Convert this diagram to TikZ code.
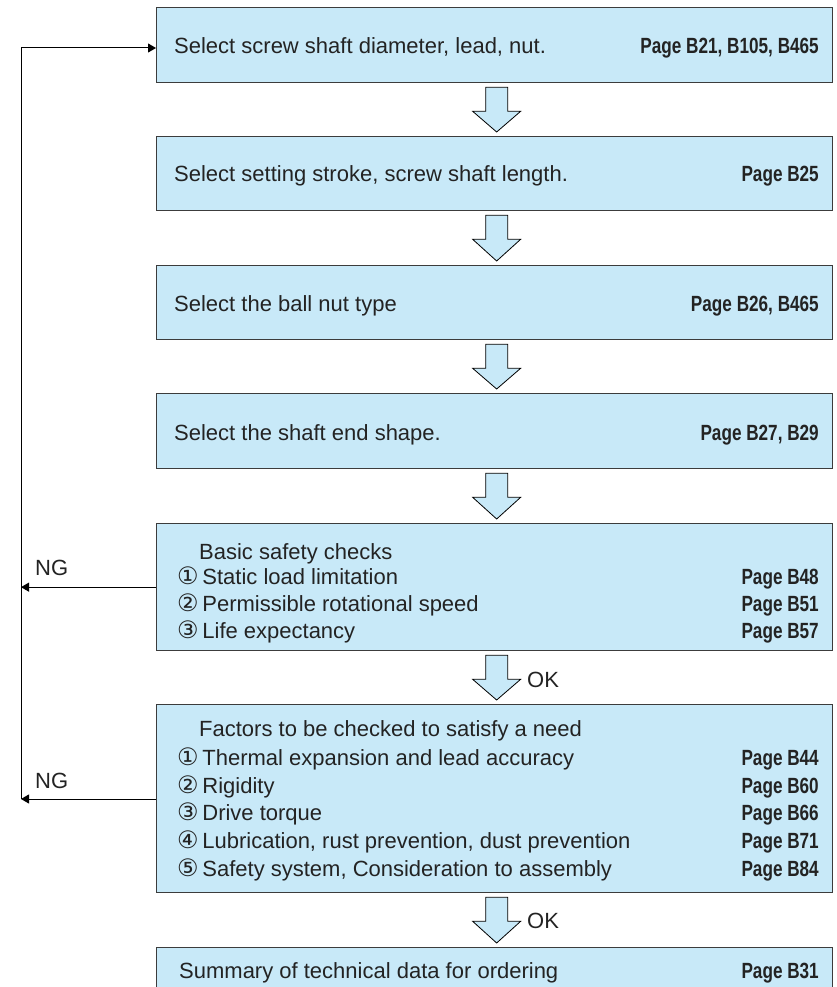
\documentclass[tikz,border=0pt]{standalone}
\usepackage{fontspec}
\setmainfont{Liberation Sans}
\newfontfamily\dejavu{DejaVu Sans}
\usetikzlibrary{arrows.meta,calc}
\definecolor{boxfill}{RGB}{200,233,248}
\definecolor{boxline}{RGB}{60,60,60}
\definecolor{txtcol}{RGB}{35,35,35}
\newcommand\pgtext[1]{\scalebox{0.78}[1]{\bfseries #1}}
\newcommand\cnum[1]{{\dejavu\fontsize{24pt}{28pt}\selectfont #1}}
\newcommand\hollowarrow[2]{%
  \draw[harrow] let \p1=(#1.south), \p2=(#2.north) in
    (\x1+2pt-11pt,\y1-4pt) -- (\x1+2pt-11pt,\y1-28pt) -- (\x1+2pt-24pt,\y1-28pt)
    -- (\x1+2pt,\y2+4pt) -- (\x1+2pt+24pt,\y1-28pt) -- (\x1+2pt+11pt,\y1-28pt)
    -- (\x1+2pt+11pt,\y1-4pt) -- cycle;}
\tikzset{
  stepbox/.style={draw=boxline, line width=1.3pt, fill=boxfill, minimum width=676pt, inner sep=0pt, anchor=north west},
  txt/.style={font=\fontsize{22pt}{26pt}\selectfont, inner sep=0pt, text=txtcol},
  pg/.style={txt, anchor=base east},
  lt/.style={txt, anchor=base west},
  harrow/.style={draw=black, line width=0.8pt, fill=boxfill, line join=miter},
  fb/.style={draw=black, line width=1pt},
  fbtip/.style={fb, -{Triangle[length=8pt,width=9pt]}},
}
\begin{document}
\begin{tikzpicture}[x=1pt,y=-1pt]
\useasboundingbox (0,0) rectangle (836,987);
\clip (0,0) rectangle (836,987);
% boxes
\node[stepbox, minimum height=75pt] (b1) at (156,7) {};
\node[stepbox, minimum height=74pt] (b2) at (156,136) {};
\node[stepbox, minimum height=74pt] (b3) at (156,265) {};
\node[stepbox, minimum height=75pt] (b4) at (156,393) {};
\node[stepbox, minimum height=127pt] (b5) at (156,523) {};
\node[stepbox, minimum height=188pt] (b6) at (156,704) {};
\node[stepbox, minimum height=56pt] (b7) at (156,947) {};
% box 1-4 texts
\node[lt] (t1) at (174,54) {Select screw shaft diameter, lead, nut.};
\node[pg] (p1) at (819,54) {\pgtext{Page B21, B105, B465}};
\node[lt] (t2) at (174,182) {Select setting stroke, screw shaft length.};
\node[pg] (p2) at (819,182) {\pgtext{Page B25}};
\node[lt] (t3) at (174,311) {Select the ball nut type};
\node[pg] (p3) at (819,311) {\pgtext{Page B26, B465}};
\node[lt] (t4) at (174,440) {Select the shaft end shape.};
\node[pg] (p4) at (819,440) {\pgtext{Page B27, B29}};
% box 5
\node[lt] (t5) at (199,559) {Basic safety checks};
\node[lt] (t5a) at (177,584) {\cnum{①}\,Static load limitation};
\node[pg] (p5a) at (819,584) {\pgtext{Page B48}};
\node[lt] (t5b) at (177,611) {\cnum{②}\,Permissible rotational speed};
\node[pg] (p5b) at (819,611) {\pgtext{Page B51}};
\node[lt] (t5c) at (177,638) {\cnum{③}\,Life expectancy};
\node[pg] (p5c) at (819,638) {\pgtext{Page B57}};
% box 6
\node[lt] (t6) at (199,736) {Factors to be checked to satisfy a need};
\node[lt] (t6a) at (177,765) {\cnum{①}\,Thermal expansion and lead accuracy};
\node[pg] (p6a) at (819,765) {\pgtext{Page B44}};
\node[lt] (t6b) at (177,793) {\cnum{②}\,Rigidity};
\node[pg] (p6b) at (819,793) {\pgtext{Page B60}};
\node[lt] (t6c) at (177,820) {\cnum{③}\,Drive torque};
\node[pg] (p6c) at (819,820) {\pgtext{Page B66}};
\node[lt] (t6d) at (177,848) {\cnum{④}\,Lubrication, rust prevention, dust prevention};
\node[pg] (p6d) at (819,848) {\pgtext{Page B71}};
\node[lt] (t6e) at (177,876) {\cnum{⑤}\,Safety system, Consideration to assembly};
\node[pg] (p6e) at (819,876) {\pgtext{Page B84}};
% box 7
\node[lt] (t7) at (179,978) {Summary of technical data for ordering};
\node[pg] (p7) at (819,978) {\pgtext{Page B31}};
% hollow arrows
\hollowarrow{b1}{b2}
\hollowarrow{b2}{b3}
\hollowarrow{b3}{b4}
\hollowarrow{b4}{b5}
\hollowarrow{b5}{b6}
\hollowarrow{b6}{b7}
\node[lt] (ok1) at (527,687) {OK};
\node[lt] (ok2) at (527,928) {OK};
% feedback loop
\coordinate (ltop) at (21,48);
\coordinate (lbot) at (21,799);
\draw[fb] (lbot) -- (ltop);
\draw[fbtip] (ltop) -- (ltop -| b1.west);
\draw[fbtip] (b5.west) -- (b5.west -| ltop);
\draw[fbtip] (b6.west |- lbot) -- (lbot);
\node[lt] (ng1) at (35,575) {NG};
\node[lt] (ng2) at (35,788) {NG};
\end{tikzpicture}
\end{document}
